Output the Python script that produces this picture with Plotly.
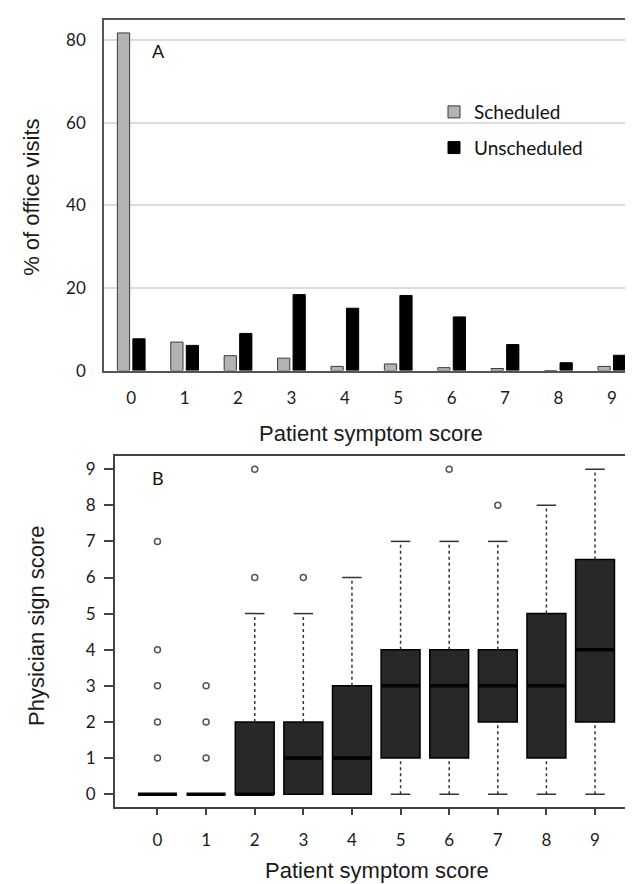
import plotly.graph_objects as go

# ---------------- data ----------------
scores = [0, 1, 2, 3, 4, 5, 6, 7, 8, 9]
scheduled = [81.8, 6.9, 3.6, 3.0, 1.0, 1.6, 0.7, 0.5, 0.0, 1.0]
unscheduled = [7.7, 6.1, 9.0, 18.4, 15.1, 18.2, 13.0, 6.3, 1.9, 3.7]

q1 = [0, 0, 0, 0, 0, 1, 1, 2, 1, 2]
median = [0, 0, 0, 1, 1, 3, 3, 3, 3, 4]
q3 = [0, 0, 2, 2, 3, 4, 4, 4, 5, 6.5]
lower_fence = [0, 0, 0, 0, 0, 0, 0, 0, 0, 0]
upper_fence = [0, 0, 5, 5, 6, 7, 7, 7, 8, 9]
outliers = {0: [1, 2, 3, 4, 7], 1: [1, 2, 3], 2: [6, 9], 3: [6], 6: [9], 7: [8]}

y_ticks_top = [0, 20, 40, 60, 80]
y_ticks_bottom = [0, 1, 2, 3, 4, 5, 6, 7, 8, 9]

W, H = 633, 884
BOX_W = 0.8
CAP_W = 0.4

def px(x):
    return x / W

def py(y):
    return 1 - y / H

fig = go.Figure()

# ---------------- panel A ----------------
fig.add_trace(go.Bar(x=scores, y=scheduled, name="Scheduled",
                     marker=dict(color="#b3b3b3", line=dict(color="#3a3a3a", width=1)),
                     xaxis="x", yaxis="y", legendgroup="s"))
fig.add_trace(go.Bar(x=scores, y=unscheduled, name="Unscheduled",
                     marker=dict(color="#000000", line=dict(color="#000000", width=1)),
                     xaxis="x", yaxis="y", legendgroup="u"))

# ---------------- panel B ----------------
# boxes (q1 -> q3)
fig.add_trace(go.Bar(x=scores, y=[b - a for a, b in zip(q1, q3)], base=q1, width=BOX_W,
                     marker=dict(color="#282828", line=dict(color="#000000", width=1.5)),
                     xaxis="x2", yaxis="y2", showlegend=False))

# whisker stems (dashed)
wx, wy = [], []
for c, a, b, lo, hi in zip(scores, q1, q3, lower_fence, upper_fence):
    if hi > b:
        wx += [c, c, None]; wy += [b, hi, None]
    if lo < a:
        wx += [c, c, None]; wy += [lo, a, None]
fig.add_trace(go.Scatter(x=wx, y=wy, mode="lines", line=dict(color="#333333", width=1.5, dash="dot"),
                         xaxis="x2", yaxis="y2", showlegend=False, hoverinfo="skip"))

# whisker caps
cx, cy = [], []
for c, a, b, lo, hi in zip(scores, q1, q3, lower_fence, upper_fence):
    if hi > b:
        cx += [c - CAP_W / 2, c + CAP_W / 2, None]; cy += [hi, hi, None]
    if lo < a:
        cx += [c - CAP_W / 2, c + CAP_W / 2, None]; cy += [lo, lo, None]
fig.add_trace(go.Scatter(x=cx, y=cy, mode="lines", line=dict(color="#333333", width=1.5),
                         xaxis="x2", yaxis="y2", showlegend=False, hoverinfo="skip"))

# medians
mx, my = [], []
for c, m in zip(scores, median):
    mx += [c - BOX_W / 2, c + BOX_W / 2, None]; my += [m, m, None]
fig.add_trace(go.Scatter(x=mx, y=my, mode="lines", line=dict(color="#000000", width=3.5),
                         xaxis="x2", yaxis="y2", showlegend=False, hoverinfo="skip"))

# outliers
ox, oy = [], []
for c, vals in outliers.items():
    for v in vals:
        ox.append(c); oy.append(v)
fig.add_trace(go.Scatter(x=ox, y=oy, mode="markers",
                         marker=dict(symbol="circle-open", size=6, color="#555555", line=dict(width=1.5)),
                         xaxis="x2", yaxis="y2", showlegend=False))

tick_font = dict(family="Lato, 'Open Sans', sans-serif", size=17, color="#1a1a1a")
title_font = dict(family="'Liberation Sans', Arial, sans-serif", size=22, color="#1a1a1a")

fig.update_layout(
    width=W, height=H,
    margin=dict(l=0, r=0, t=0, b=0),
    paper_bgcolor="white", plot_bgcolor="white",
    barmode="group", bargap=0.42, bargroupgap=0.21,
    showlegend=True,
    legend=dict(x=px(426), y=py(86), xanchor="left", yanchor="top",
                font=dict(family="Lato, 'Open Sans', sans-serif", size=19, color="#111111"),
                tracegroupgap=8, bgcolor="rgba(0,0,0,0)"),
    xaxis=dict(domain=[px(96), px(630)], range=[-0.51, 9.49], tickvals=scores,
               showgrid=False, zeroline=False, showline=True, mirror=True,
               linecolor="#555555", linewidth=1.5, ticks="", tickfont=tick_font,
               ticklabelstandoff=11, anchor="y"),
    yaxis=dict(domain=[py(366.7), py(12.3)], range=[0, 84.9], tickvals=y_ticks_top,
               showgrid=True, gridcolor="#dcdcdc", gridwidth=1.5, zeroline=False,
               showline=True, mirror=True, linecolor="#555555", linewidth=1.5,
               ticks="", tickfont=tick_font, ticklabelstandoff=13, anchor="x"),
    xaxis2=dict(domain=[px(106.7), px(630.3)], range=[-0.88, 9.89], tickvals=scores,
                showgrid=False, zeroline=False, showline=True, mirror=True,
                linecolor="#444444", linewidth=1.5, ticks="outside", ticklen=6,
                tickcolor="#444444", tickwidth=1.5, tickfont=tick_font,
                ticklabelstandoff=11, anchor="y2"),
    yaxis2=dict(domain=[py(808.3), py(453.3)], range=[-0.36, 9.36], tickvals=y_ticks_bottom,
                showgrid=False, zeroline=False, showline=True, mirror=True,
                linecolor="#444444", linewidth=1.5, ticks="outside", ticklen=9,
                tickcolor="#444444", tickwidth=1.5, tickfont=tick_font,
                ticklabelstandoff=5, anchor="x2"),
    annotations=[
        dict(text="Patient symptom score", x=px(363), y=py(430), xref="paper", yref="paper",
             xanchor="center", yanchor="middle", showarrow=False, font=title_font),
        dict(text="% of office visits", x=px(24), y=py(192), xref="paper", yref="paper",
             xanchor="center", yanchor="middle", showarrow=False, font=title_font, textangle=-90),
        dict(text="Patient symptom score", x=px(368.5), y=py(872), xref="paper", yref="paper",
             xanchor="center", yanchor="middle", showarrow=False, font=title_font),
        dict(text="Physician sign score", x=px(29), y=py(625), xref="paper", yref="paper",
             xanchor="center", yanchor="middle", showarrow=False, font=title_font, textangle=-90),
        dict(text="A", x=px(150), y=py(43), xref="paper", yref="paper",
             xanchor="center", yanchor="middle", showarrow=False,
             font=dict(family="Lato, sans-serif", size=18, color="#111111")),
        dict(text="B", x=px(150), y=py(475), xref="paper", yref="paper",
             xanchor="center", yanchor="middle", showarrow=False,
             font=dict(family="Lato, sans-serif", size=18, color="#111111")),
    ],
)

fig.write_html("out.html")
